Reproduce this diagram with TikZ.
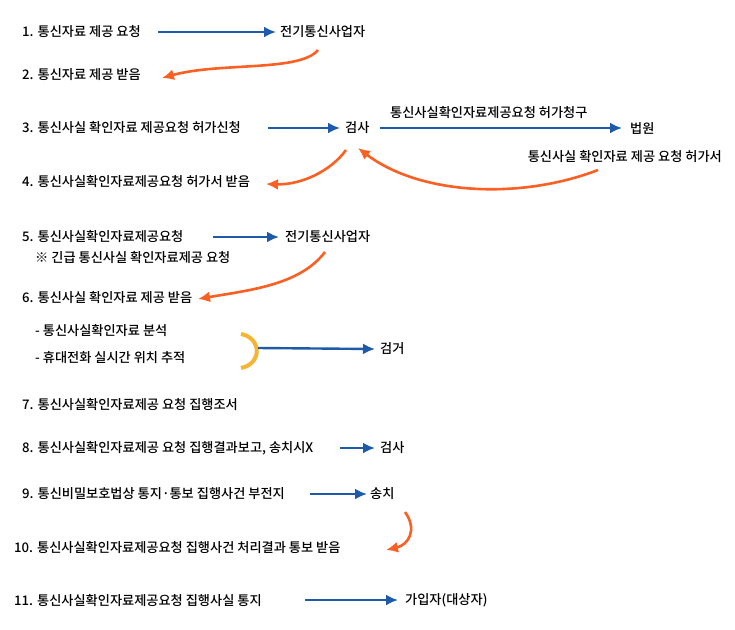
\documentclass[tikz,border=0pt]{standalone}
\usepackage{fontspec}
\setmainfont{Noto Sans CJK KR Medium}
\usetikzlibrary{arrows.meta}
\definecolor{bl}{RGB}{30,90,170}
\definecolor{org}{RGB}{250,95,35}
\definecolor{yel}{RGB}{245,180,50}
\begin{document}
\begin{tikzpicture}[x=1pt,y=-1pt,
 t/.style={anchor=west,inner sep=0pt,font=\fontsize{13.2}{15}\selectfont},
 ba/.style={draw=bl,line width=2.4pt,-{Latex[length=12pt,width=11pt]}},
 oa/.style={draw=org,line width=2.6pt,-{Latex[length=12pt,width=11pt]}}]
\useasboundingbox (0,0) rectangle (735,629);
\node[t] (a1) at (22,32) {1. 통신자료 제공 요청};
\node[t] (b1) at (280,32) {전기통신사업자};
\node[t] (a2) at (22,75) {2. 통신자료 제공 받음};
\node[t] (a3) at (22,128) {3. 통신사실 확인자료 제공요청 허가신청};
\node[t] (b3) at (345,128) {검사};
\node[t] (c3) at (630,128) {법원};
\node[t] (l3) at (390,113) {통신사실확인자료제공요청 허가청구};
\node[t,anchor=east] (l4) at (722,157) {통신사실 확인자료 제공 요청 허가서};
\node[t] (a4) at (22,182) {4. 통신사실확인자료제공요청 허가서 받음};
\node[t] (a5) at (22,237) {5. 통신사실확인자료제공요청};
\node[t] (b5) at (285,237) {전기통신사업자};
\node[t] (n5) at (35,258) {※ 긴급 통신사실 확인자료제공 요청};
\node[t] (a6) at (22,298) {6. 통신사실 확인자료 제공 받음};
\node[t] (s1) at (35,331) {- 통신사실확인자료 분석};
\node[t] (s2) at (35,358) {- 휴대전화 실시간 위치 추적};
\node[t] (b6) at (380,349) {검거};
\node[t] (a7) at (22,405) {7. 통신사실확인자료제공 요청 집행조서};
\node[t] (a8) at (22,448) {8. 통신사실확인자료제공 요청 집행결과보고, 송치시X};
\node[t] (b8) at (380,448) {검사};
\node[t] (a9) at (22,494) {9. 통신비밀보호법상 통지·통보 집행사건 부전지};
\node[t] (b9) at (370,494) {송치};
\node[t] (a10) at (14,548) {10. 통신사실확인자료제공요청 집행사건 처리결과 통보 받음};
\node[t] (a11) at (14,600) {11. 통신사실확인자료제공요청 집행사실 통지};
\node[t] (b11) at (405,600) {가입자(대상자)};
\coordinate (p1) at (158,32);
\coordinate (p2s) at (318,50); \coordinate (p2e) at (162,78);
\coordinate (p3) at (268,128);
\coordinate (p4s) at (598,170); \coordinate (p4e) at (358,148);
\coordinate (p5s) at (346,150); \coordinate (p5e) at (266,184);
\coordinate (p6) at (213,237);
\coordinate (p7s) at (325,252); \coordinate (p7e) at (198,299);
\coordinate (br) at (258,348);
\coordinate (p8) at (340,448);
\coordinate (p9) at (310,494);
\coordinate (p10s) at (405,512); \coordinate (p10e) at (386,550);
\coordinate (p11) at (305,600);
\draw[ba] (p1) -- ([xshift=-4pt]b1.west);
\draw[oa] (p2s) .. controls (300,72) and (220,62) .. (p2e);
\draw[ba] (p3) -- ([xshift=-5pt]b3.west);
\draw[ba] ([xshift=10pt]b3.east) -- ([xshift=-8pt]c3.west);
\draw[oa] (p4s) .. controls (520,200) and (420,195) .. (p4e);
\draw[oa] (p5s) .. controls (330,172) and (300,185) .. (p5e);
\draw[ba] (p6) -- ([xshift=-6pt]b5.west);
\draw[oa] (p7s) .. controls (300,285) and (250,290) .. (p7e);
\draw[yel,line width=4pt] (241,334) .. controls (262,338) and (262,364) .. (241,368);
\draw[ba] (br) -- ([xshift=-5pt]b6.west);
\draw[ba] (p8) -- ([xshift=-5pt]b8.west);
\draw[ba] (p9) -- ([xshift=-3pt]b9.west);
\draw[oa] (p10s) .. controls (418,530) and (408,545) .. (p10e);
\draw[ba] (p11) -- ([xshift=-7pt]b11.west);
\end{tikzpicture}
\end{document}
